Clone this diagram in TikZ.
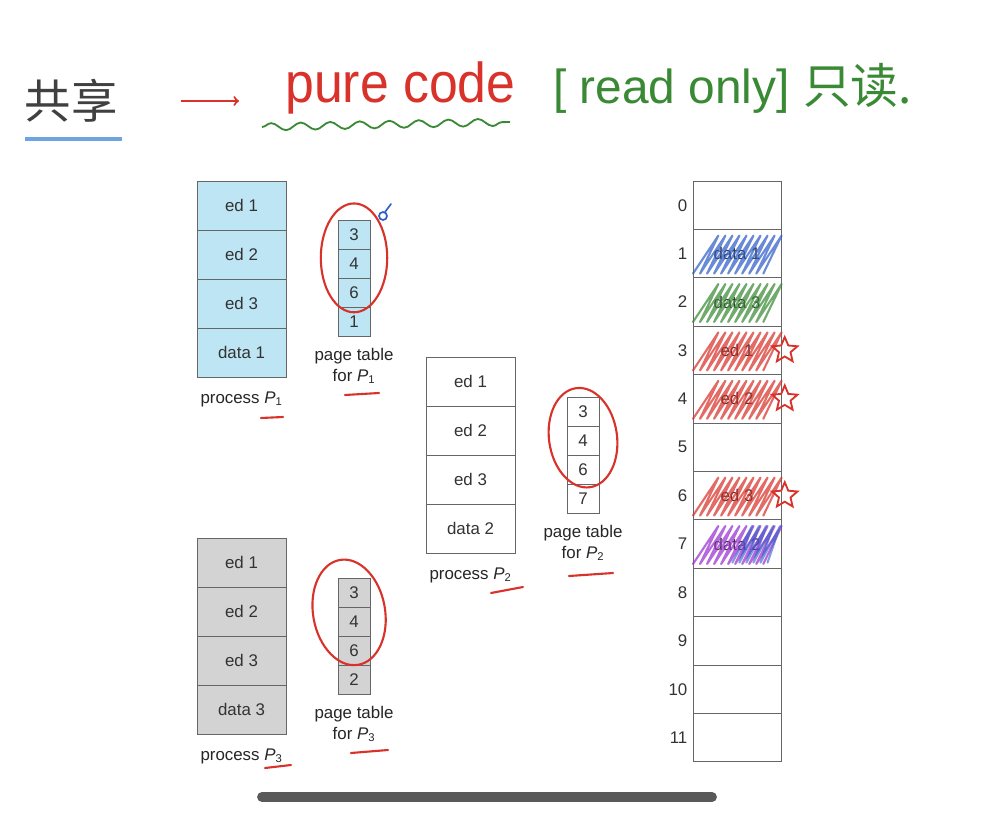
\documentclass[tikz,border=0pt]{standalone}
\usepackage{fontspec}
\setmainfont{Liberation Sans}
\newfontfamily\cjkfont{Noto Sans CJK SC}
\usetikzlibrary{positioning,shapes.geometric,decorations.pathmorphing}

\definecolor{codeblue}{HTML}{BEE5F4}
\definecolor{codegray}{HTML}{D3D3D3}
\definecolor{penred}{HTML}{D8322A}
\definecolor{pengreen}{HTML}{3A8A35}
\definecolor{penblue}{HTML}{2F5DC8}
\definecolor{penpurple}{HTML}{9B30D0}
\definecolor{lineblue}{HTML}{6FA5DE}

% hatch a memory frame like a pen scribble
\newcommand{\memscribble}[2]{%
  \draw[#2, line width=1.5pt, opacity=.72, line join=round, line cap=round]
    ([xshift=0pt,yshift=3pt]#1.south west)
    \foreach \k in {1,...,10}{ -- ++(18pt,27pt) -- ++(-13pt,-27pt) };}

\begin{document}
\begin{tikzpicture}[x=0.025cm, y=-0.025cm,
  cellbox/.style={draw=black!60, line width=0.7pt, inner sep=0pt, outer sep=0pt,
    text=black!80, font=\fontsize{12}{14}\selectfont},
  proccell/.style={cellbox, minimum width=2.225cm, minimum height=1.225cm, anchor=north west},
  ptcell/.style={cellbox, minimum width=0.8cm, minimum height=0.725cm, anchor=north west},
  memcell/.style={cellbox, minimum width=2.2cm, minimum height=1.21cm, anchor=north west},
  caption/.style={align=center, font=\fontsize{12}{15}\selectfont, text=black!85},
  redpen/.style={draw=penred, line width=1.5pt, line cap=round, line join=round}]
    \useasboundingbox[fill=white] (0,0) rectangle (997,819);

    % Heading
    \node[anchor=west, font=\cjkfont\fontsize{33}{36}\selectfont, text=black!75] (share) at (20,101) {共享};
    \draw[lineblue, line width=2.2pt] (25,139) -- (122,139);
    \node[anchor=west, font=\fontsize{40}{44}\selectfont, text=penred, xscale=0.92, inner sep=0pt] (pure) at (285,88) {pure code};
    \draw[->, penred, line width=1.5pt, shorten <=1.45cm, shorten >=1.15cm] (share.east) -- (share.east -| pure.west);
    \draw[pengreen, line width=1.3pt, decorate, decoration={snake, amplitude=2.6pt, segment length=21pt}] (262,127) -- (510,122);
    \node[anchor=west, font=\fontsize{34}{38}\selectfont, text=pengreen, inner sep=0pt] (ronly) at (553,88)
      {[ read only] {\cjkfont 只读.}};

    % Process P1 and its page table
    \foreach \txt [count=\i from 0] in {ed 1,ed 2,ed 3,data 1}
      \node[proccell, fill=codeblue] (p1c\i) at (197,{181+49*\i}) {\txt};
    \foreach \f [count=\i from 0] in {3,4,6,1}
      \node[ptcell, fill=codeblue] (t1c\i) at (338,{220+29*\i}) {\f};
    \node[caption, below=7pt of p1c3] (lp1) {process \textit{P}\textsubscript{1}};
    \node[caption, below=5pt of t1c3] (lt1) {page table\\for \textit{P}\textsubscript{1}};

    % Process P2 and its page table
    \foreach \txt [count=\i from 0] in {ed 1,ed 2,ed 3,data 2}
      \node[proccell, fill=white] (p2c\i) at (426,{357+49*\i}) {\txt};
    \foreach \f [count=\i from 0] in {3,4,6,7}
      \node[ptcell, fill=white] (t2c\i) at (567,{397+29*\i}) {\f};
    \node[caption, below=7pt of p2c3] (lp2) {process \textit{P}\textsubscript{2}};
    \node[caption, below=5pt of t2c3] (lt2) {page table\\for \textit{P}\textsubscript{2}};

    % Process P3 and its page table
    \foreach \txt [count=\i from 0] in {ed 1,ed 2,ed 3,data 3}
      \node[proccell, fill=codegray] (p3c\i) at (197,{538+49*\i}) {\txt};
    \foreach \f [count=\i from 0] in {3,4,6,2}
      \node[ptcell, fill=codegray] (t3c\i) at (338,{578+29*\i}) {\f};
    \node[caption, below=7pt of p3c3] (lp3) {process \textit{P}\textsubscript{3}};
    \node[caption, below=5pt of t3c3] (lt3) {page table\\for \textit{P}\textsubscript{3}};

    % Physical memory
    \foreach \lbl [count=\i from 0] in {{},data 1,data 3,ed 1,ed 2,{},ed 3,data 2,{},{},{},{}} {
      \node[memcell, fill=white] (m\i) at (693,{181+48.4*\i}) {\lbl};
      \node[left=0.5pt of m\i, font=\fontsize{12}{14}\selectfont, text=black!80] (n\i) {\i};
    }

    % Pen marks
    \memscribble{m1}{penblue}
    \memscribble{m2}{pengreen}
    \memscribble{m3}{penred}
    \memscribble{m4}{penred}
    \memscribble{m6}{penred}
    \memscribble{m7}{penpurple}
    \draw[penblue, line width=1.5pt, opacity=.6, line cap=round, line join=round]
      ([xshift=28pt,yshift=4pt]m7.south west)
      \foreach \k in {1,...,5}{ -- ++(14pt,26pt) -- ++(-9pt,-26pt) };
    \foreach \j in {3,4,6}
      \node[star, star points=5, star point ratio=2.2, draw=penred, line width=1.3pt,
        minimum size=19pt, inner sep=0pt, right=-4pt of m\j.east] (s\j) {};

    \draw[redpen] ([yshift=4pt]t1c1.center) ellipse [x radius=0.83cm, y radius=1.36cm];
    \draw[redpen] ([yshift=2pt]t2c1.center) ellipse [x radius=0.85cm, y radius=1.25cm, rotate=8];
    \draw[redpen] ([xshift=-3.5pt,yshift=6.5pt]t3c1.center) ellipse [x radius=0.9cm, y radius=1.33cm, rotate=10];
    \draw[penblue, line width=1.2pt] (383,216) circle [radius=0.1cm];
    \draw[penblue, line width=1.2pt, line cap=round] (385,212) -- (391,204);

    \draw[redpen] (261,418) -- (283,417);
    \draw[redpen] (345,395) -- (379,393);
    \draw[redpen] (491,593) -- (523,587);
    \draw[redpen] (569,576) -- (613,573);
    \draw[redpen] (265,768) -- (291,765);
    \draw[redpen] (351,753) -- (388,750);

    % Scroll bar
    \draw[black!65, line width=7pt, line cap=round] (262,797) -- (712,797);
\end{tikzpicture}
\end{document}
